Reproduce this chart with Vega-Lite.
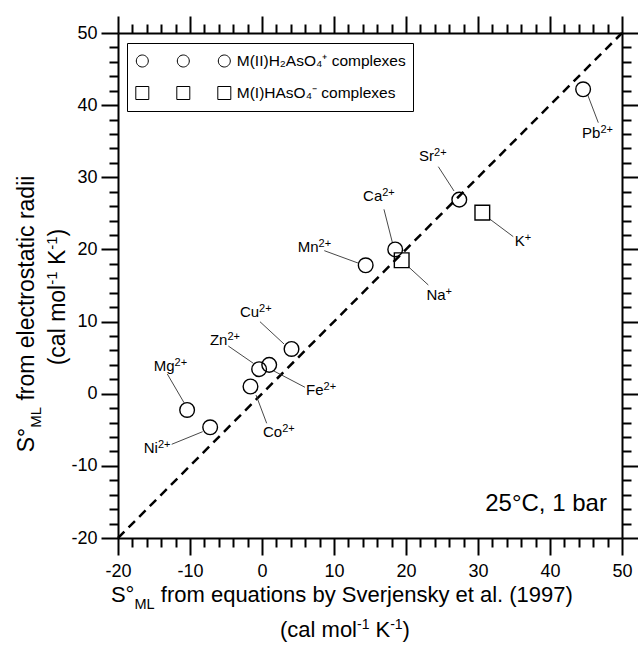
{
  "$schema": "https://vega.github.io/schema/vega-lite/v6.json",
  "width": 504,
  "height": 505,
  "autosize": {"type": "none"},
  "padding": {"left": 118, "top": 33, "right": 16, "bottom": 109},
  "config": {
    "view": {"stroke": null},
    "font": "Liberation Sans",
    "text": {"font": "Liberation Sans", "color": "black"}
  },
  "data": {
    "values": [
      {"ion": "Pb", "charge": "2+", "group": "M(II)H₂AsO₄⁺ complexes", "sml_eq": 44.6, "sml_rad": 42.2, "lx": 47.0, "ly": 36.1, "x1": 45.24, "y1": 41.41, "x2": 46.71, "y2": 37.57},
      {"ion": "Sr", "charge": "2+", "group": "M(II)H₂AsO₄⁺ complexes", "sml_eq": 27.4, "sml_rad": 26.9, "lx": 23.9, "ly": 32.9, "x1": 24.49, "y1": 31.47, "x2": 26.67, "y2": 28.10},
      {"ion": "Ca", "charge": "2+", "group": "M(II)H₂AsO₄⁺ complexes", "sml_eq": 18.5, "sml_rad": 20.0, "lx": 16.7, "ly": 27.4, "x1": 16.94, "y1": 25.56, "x2": 18.10, "y2": 20.99},
      {"ion": "Mn", "charge": "2+", "group": "M(II)H₂AsO₄⁺ complexes", "sml_eq": 14.4, "sml_rad": 17.8, "lx": 7.85, "ly": 20.4, "x1": 8.65, "y1": 19.83, "x2": 13.43, "y2": 18.08},
      {"ion": "Cu", "charge": "2+", "group": "M(II)H₂AsO₄⁺ complexes", "sml_eq": 4.1, "sml_rad": 6.2, "lx": -0.4, "ly": 11.3, "x1": -0.28, "y1": 9.98, "x2": 3.06, "y2": 6.89},
      {"ion": "Zn", "charge": "2+", "group": "M(II)H₂AsO₄⁺ complexes", "sml_eq": -0.4, "sml_rad": 3.4, "lx": -4.8, "ly": 7.45, "x1": -4.68, "y1": 6.61, "x2": -1.21, "y2": 4.22},
      {"ion": "Fe", "charge": "2+", "group": "M(II)H₂AsO₄⁺ complexes", "sml_eq": 1.0, "sml_rad": 4.0, "lx": 8.55, "ly": 0.5, "x1": 5.97, "y1": 0.89, "x2": 1.57, "y2": 3.19},
      {"ion": "Co", "charge": "2+", "group": "M(II)H₂AsO₄⁺ complexes", "sml_eq": -1.6, "sml_rad": 1.0, "lx": 2.8, "ly": -5.25, "x1": -0.83, "y1": -0.18, "x2": 0.65, "y2": -4.10},
      {"ion": "Mg", "charge": "2+", "group": "M(II)H₂AsO₄⁺ complexes", "sml_eq": -10.4, "sml_rad": -2.25, "lx": -12.15, "ly": 3.85, "x1": -13.15, "y1": 2.73, "x2": -10.83, "y2": -1.24},
      {"ion": "Ni", "charge": "2+", "group": "M(II)H₂AsO₄⁺ complexes", "sml_eq": -7.2, "sml_rad": -4.65, "lx": -14.45, "ly": -7.55, "x1": -12.54, "y1": -7.01, "x2": -8.24, "y2": -5.26},
      {"ion": "Na", "charge": "+", "group": "M(I)HAsO₄⁻ complexes", "sml_eq": 19.4, "sml_rad": 18.5, "lx": 25.5, "ly": 13.7, "x1": 20.32, "y1": 17.61, "x2": 23.10, "y2": 15.07},
      {"ion": "K", "charge": "+", "group": "M(I)HAsO₄⁻ complexes", "sml_eq": 30.6, "sml_rad": 25.1, "lx": 36.5, "ly": 21.1, "x1": 31.67, "y1": 24.18, "x2": 34.90, "y2": 21.77}
    ]
  },
  "resolve": {"axis": {"x": "independent", "y": "independent"}},
  "layer": [
    {
      "data": {"values": [{"x": -20, "y": -20}, {"x": 50, "y": 50}]},
      "mark": {"type": "line", "color": "black", "strokeWidth": 2.5, "strokeDash": [9, 6]},
      "encoding": {
        "x": {"field": "x", "type": "quantitative", "scale": {"domain": [-20, 50], "nice": false, "zero": false},
          "axis": {"orient": "bottom", "values": [-20,-18,-16,-14,-12,-10,-8,-6,-4,-2,0,2,4,6,8,10,12,14,16,18,20,22,24,26,28,30,32,34,36,38,40,42,44,46,48,50],
            "title": null, "grid": false, "domainColor": "black", "domainWidth": 2, "tickColor": "black", "tickWidth": 2,
            "tickSize": {"condition": {"test": "datum.value % 10 === 0", "value": 17}, "value": 9},
            "labelExpr": "datum.value % 10 === 0 ? '' + datum.value : ''",
            "labelFont": "Liberation Sans", "labelFontSize": 18, "labelColor": "black", "labelPadding": 7, "labelFlush": false, "labelOverlap": false}},
        "y": {"field": "y", "type": "quantitative", "scale": {"domain": [-20, 50], "nice": false, "zero": false},
          "axis": {"orient": "left", "values": [-20,-18,-16,-14,-12,-10,-8,-6,-4,-2,0,2,4,6,8,10,12,14,16,18,20,22,24,26,28,30,32,34,36,38,40,42,44,46,48,50],
            "title": null, "grid": false, "domainColor": "black", "domainWidth": 2, "tickColor": "black", "tickWidth": 2,
            "tickSize": {"condition": {"test": "datum.value % 10 === 0", "value": 17}, "value": 9},
            "labelExpr": "datum.value % 10 === 0 ? '' + datum.value : ''",
            "labelFont": "Liberation Sans", "labelFontSize": 18, "labelColor": "black", "labelPadding": 4, "labelFlush": false, "labelOverlap": false}}
      }
    },
    {
      "mark": {"type": "rule", "color": "#333333", "strokeWidth": 0.9},
      "encoding": {
        "x": {"field": "x1", "type": "quantitative", "scale": {"domain": [-20, 50], "nice": false, "zero": false}, "axis": null},
        "y": {"field": "y1", "type": "quantitative", "scale": {"domain": [-20, 50], "nice": false, "zero": false}, "axis": null},
        "x2": {"field": "x2"},
        "y2": {"field": "y2"}
      }
    },
    {
      "mark": {"type": "point", "filled": false, "color": "black", "size": 215, "strokeWidth": 1.4, "opacity": 1},
      "encoding": {
        "x": {"field": "sml_eq", "type": "quantitative", "scale": {"domain": [-20, 50], "nice": false, "zero": false},
          "axis": {"orient": "top", "values": [-20,-18,-16,-14,-12,-10,-8,-6,-4,-2,0,2,4,6,8,10,12,14,16,18,20,22,24,26,28,30,32,34,36,38,40,42,44,46,48,50],
            "title": null, "grid": false, "labels": false, "domainColor": "black", "domainWidth": 2, "tickColor": "black", "tickWidth": 2,
            "tickSize": {"condition": {"test": "datum.value % 10 === 0", "value": 17}, "value": 9}}},
        "y": {"field": "sml_rad", "type": "quantitative", "scale": {"domain": [-20, 50], "nice": false, "zero": false},
          "axis": {"orient": "right", "values": [-20,-18,-16,-14,-12,-10,-8,-6,-4,-2,0,2,4,6,8,10,12,14,16,18,20,22,24,26,28,30,32,34,36,38,40,42,44,46,48,50],
            "title": null, "grid": false, "labels": false, "domainColor": "black", "domainWidth": 2, "tickColor": "black", "tickWidth": 2,
            "tickSize": {"condition": {"test": "datum.value % 10 === 0", "value": 17}, "value": 9}}},
        "shape": {"condition": {"test": "datum.charge === '2+'", "value": "circle"}, "value": "square"}
      }
    },
    {
      "transform": [{"filter": "false"}],
      "mark": {"type": "point", "filled": false, "color": "black", "strokeWidth": 1, "opacity": 1},
      "encoding": {
        "x": {"field": "sml_eq", "type": "quantitative", "scale": {"domain": [-20, 50], "nice": false, "zero": false}, "axis": null},
        "y": {"field": "sml_rad", "type": "quantitative", "scale": {"domain": [-20, 50], "nice": false, "zero": false}, "axis": null},
        "shape": {"field": "group", "type": "nominal",
          "scale": {"domain": ["M(II)H₂AsO₄⁺ complexes", "M(I)HAsO₄⁻ complexes"],
            "range": ["M-0.70,0A0.12,0.12,0,1,1,-0.94,0A0.12,0.12,0,1,1,-0.70,0ZM0.12,0A0.12,0.12,0,1,1,-0.12,0A0.12,0.12,0,1,1,0.12,0ZM0.94,0A0.12,0.12,0,1,1,0.70,0A0.12,0.12,0,1,1,0.94,0Z",
                      "M-0.95,-0.13L-0.69,-0.13L-0.69,0.13L-0.95,0.13ZM-0.13,-0.13L0.13,-0.13L0.13,0.13L-0.13,0.13ZM0.69,-0.13L0.95,-0.13L0.95,0.13L0.69,0.13Z"]},
          "legend": {
            "title": null, "orient": "none", "legendX": 9, "legendY": 10, "padding": 7,
            "strokeColor": "black", "symbolSize": 10000, "symbolStrokeWidth": 1, "symbolStrokeColor": "black",
            "symbolOffset": -1.2, "clipHeight": 22,
            "labelFont": "Liberation Sans", "labelFontSize": 15.5, "labelColor": "black", "labelOffset": 3, "labelLimit": 0, "rowPadding": 10
          }
        }
      }
    },
    {
      "mark": {"type": "text", "align": "right", "baseline": "middle", "fontSize": 15, "color": "black"},
      "encoding": {
        "x": {"field": "lx", "type": "quantitative", "scale": {"domain": [-20, 50], "nice": false, "zero": false}, "axis": null},
        "y": {"field": "ly", "type": "quantitative", "scale": {"domain": [-20, 50], "nice": false, "zero": false}, "axis": null},
        "text": {"field": "ion"}
      }
    },
    {
      "mark": {"type": "text", "align": "left", "baseline": "middle", "fontSize": 11, "dy": -3, "color": "black"},
      "encoding": {
        "x": {"field": "lx", "type": "quantitative", "scale": {"domain": [-20, 50], "nice": false, "zero": false}, "axis": null},
        "y": {"field": "ly", "type": "quantitative", "scale": {"domain": [-20, 50], "nice": false, "zero": false}, "axis": null},
        "text": {"field": "charge"}
      }
    },
    {
      "data": {"values": [{"t": "25°C, 1 bar"}]},
      "mark": {"type": "text", "align": "right", "baseline": "alphabetic", "fontSize": 24, "color": "black"},
      "encoding": {
        "x": {"datum": 47.9, "type": "quantitative", "scale": {"domain": [-20, 50], "nice": false, "zero": false}, "axis": null},
        "y": {"datum": -16.3, "type": "quantitative", "scale": {"domain": [-20, 50], "nice": false, "zero": false}, "axis": null},
        "text": {"field": "t"}
      }
    },
    {"data": {"values": [{"t": "S°"}]}, "mark": {"type": "text", "align": "left", "baseline": "alphabetic", "fontSize": 22, "dx": -230.3, "dy": 64},
      "encoding": {"x": {"datum": 11, "type": "quantitative", "axis": null}, "y": {"datum": -20, "type": "quantitative", "axis": null}, "text": {"field": "t"}}},
    {"data": {"values": [{"t": "ML"}]}, "mark": {"type": "text", "align": "left", "baseline": "alphabetic", "fontSize": 14.5, "dx": -206.8, "dy": 71},
      "encoding": {"x": {"datum": 11, "type": "quantitative", "axis": null}, "y": {"datum": -20, "type": "quantitative", "axis": null}, "text": {"field": "t"}}},
    {"data": {"values": [{"t": "from equations by Sverjensky et al. (1997)"}]}, "mark": {"type": "text", "align": "left", "baseline": "alphabetic", "fontSize": 22, "dx": -180.4, "dy": 64},
      "encoding": {"x": {"datum": 11, "type": "quantitative", "axis": null}, "y": {"datum": -20, "type": "quantitative", "axis": null}, "text": {"field": "t"}}},
    {"data": {"values": [{"t": "(cal mol"}]}, "mark": {"type": "text", "align": "left", "baseline": "alphabetic", "fontSize": 22, "dx": -61.2, "dy": 99},
      "encoding": {"x": {"datum": 11, "type": "quantitative", "axis": null}, "y": {"datum": -20, "type": "quantitative", "axis": null}, "text": {"field": "t"}}},
    {"data": {"values": [{"t": "-1"}]}, "mark": {"type": "text", "align": "left", "baseline": "alphabetic", "fontSize": 14, "dx": 15.8, "dy": 91},
      "encoding": {"x": {"datum": 11, "type": "quantitative", "axis": null}, "y": {"datum": -20, "type": "quantitative", "axis": null}, "text": {"field": "t"}}},
    {"data": {"values": [{"t": "K"}]}, "mark": {"type": "text", "align": "left", "baseline": "alphabetic", "fontSize": 22, "dx": 34.3, "dy": 99},
      "encoding": {"x": {"datum": 11, "type": "quantitative", "axis": null}, "y": {"datum": -20, "type": "quantitative", "axis": null}, "text": {"field": "t"}}},
    {"data": {"values": [{"t": "-1"}]}, "mark": {"type": "text", "align": "left", "baseline": "alphabetic", "fontSize": 14, "dx": 49.0, "dy": 91},
      "encoding": {"x": {"datum": 11, "type": "quantitative", "axis": null}, "y": {"datum": -20, "type": "quantitative", "axis": null}, "text": {"field": "t"}}},
    {"data": {"values": [{"t": ")"}]}, "mark": {"type": "text", "align": "left", "baseline": "alphabetic", "fontSize": 22, "dx": 61.4, "dy": 99},
      "encoding": {"x": {"datum": 11, "type": "quantitative", "axis": null}, "y": {"datum": -20, "type": "quantitative", "axis": null}, "text": {"field": "t"}}},
    {"data": {"values": [{"t": "S°"}]}, "mark": {"type": "text", "align": "left", "baseline": "alphabetic", "angle": 270, "fontSize": 23, "dx": -166.8, "dy": -84},
      "encoding": {"x": {"datum": -20, "type": "quantitative", "axis": null}, "y": {"datum": 15, "type": "quantitative", "axis": null}, "text": {"field": "t"}}},
    {"data": {"values": [{"t": "ML"}]}, "mark": {"type": "text", "align": "left", "baseline": "alphabetic", "angle": 270, "fontSize": 15, "dx": -142.3, "dy": -77},
      "encoding": {"x": {"datum": -20, "type": "quantitative", "axis": null}, "y": {"datum": 15, "type": "quantitative", "axis": null}, "text": {"field": "t"}}},
    {"data": {"values": [{"t": "from electrostatic radii"}]}, "mark": {"type": "text", "align": "left", "baseline": "alphabetic", "angle": 270, "fontSize": 23, "dx": -115.1, "dy": -84},
      "encoding": {"x": {"datum": -20, "type": "quantitative", "axis": null}, "y": {"datum": 15, "type": "quantitative", "axis": null}, "text": {"field": "t"}}},
    {"data": {"values": [{"t": "(cal mol"}]}, "mark": {"type": "text", "align": "left", "baseline": "alphabetic", "angle": 270, "fontSize": 23, "dx": -79.8, "dy": -53},
      "encoding": {"x": {"datum": -20, "type": "quantitative", "axis": null}, "y": {"datum": 15, "type": "quantitative", "axis": null}, "text": {"field": "t"}}},
    {"data": {"values": [{"t": "-1"}]}, "mark": {"type": "text", "align": "left", "baseline": "alphabetic", "angle": 270, "fontSize": 15, "dx": 0.7, "dy": -61},
      "encoding": {"x": {"datum": -20, "type": "quantitative", "axis": null}, "y": {"datum": 15, "type": "quantitative", "axis": null}, "text": {"field": "t"}}},
    {"data": {"values": [{"t": "K"}]}, "mark": {"type": "text", "align": "left", "baseline": "alphabetic", "angle": 270, "fontSize": 23, "dx": 20.4, "dy": -53},
      "encoding": {"x": {"datum": -20, "type": "quantitative", "axis": null}, "y": {"datum": 15, "type": "quantitative", "axis": null}, "text": {"field": "t"}}},
    {"data": {"values": [{"t": "-1"}]}, "mark": {"type": "text", "align": "left", "baseline": "alphabetic", "angle": 270, "fontSize": 15, "dx": 35.7, "dy": -61},
      "encoding": {"x": {"datum": -20, "type": "quantitative", "axis": null}, "y": {"datum": 15, "type": "quantitative", "axis": null}, "text": {"field": "t"}}},
    {"data": {"values": [{"t": ")"}]}, "mark": {"type": "text", "align": "left", "baseline": "alphabetic", "angle": 270, "fontSize": 23, "dx": 49.0, "dy": -53},
      "encoding": {"x": {"datum": -20, "type": "quantitative", "axis": null}, "y": {"datum": 15, "type": "quantitative", "axis": null}, "text": {"field": "t"}}}
  ]
}
